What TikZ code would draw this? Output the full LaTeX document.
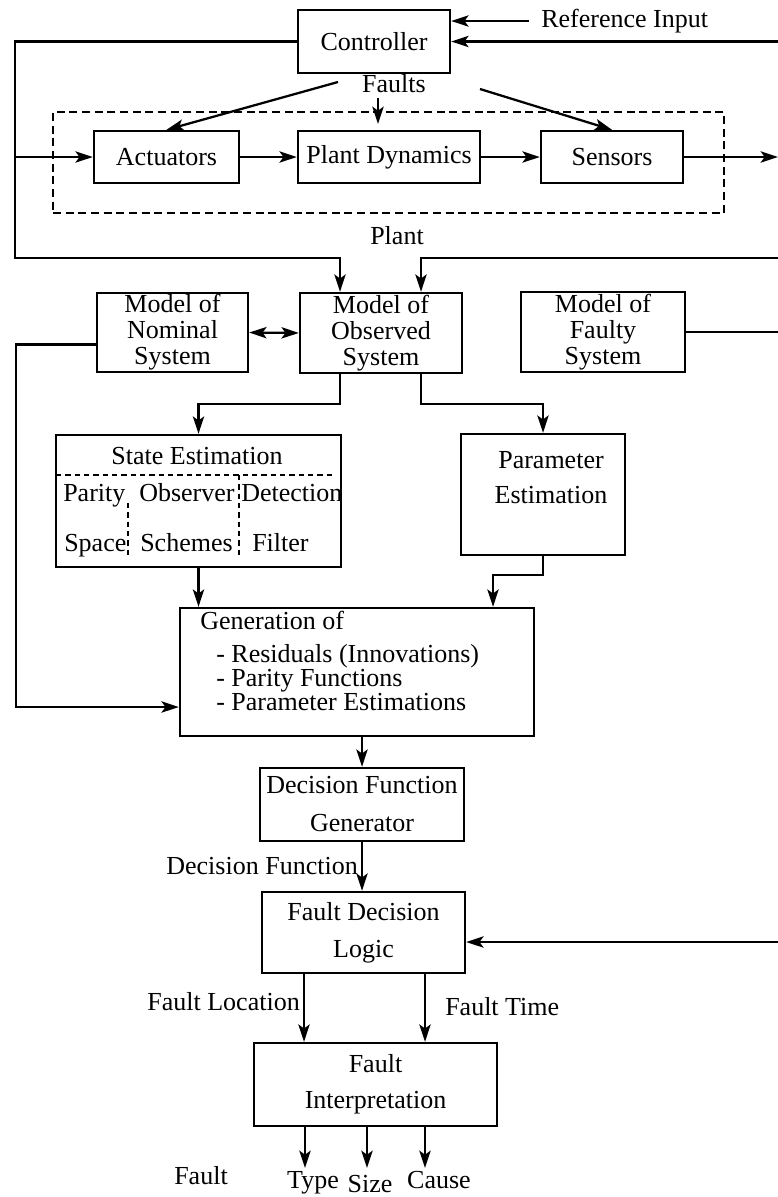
\documentclass[tikz,border=0pt]{standalone}
\usepackage{fontspec}
\setmainfont{Liberation Serif}
\usetikzlibrary{arrows.meta,calc}
\begin{document}
\begin{tikzpicture}[x=0.75pt,y=-0.75pt,
  every node/.style={font=\fontsize{19.5}{19.5}\selectfont},
  box/.style={draw,line width=1.8pt,inner sep=0pt,align=center},
  bx/.style 2 args={box,minimum width=#1*0.75pt,minimum height=#2*0.75pt},
  lbl/.style={inner sep=0pt,text height=13pt,text depth=4pt},
  ln/.style={line width=1.7pt},
  tip/.tip={Stealth[length=13pt,width=8.5pt,inset=3pt]},
  arr/.style={line width=1.7pt,-tip},
  darr/.style={line width=1.7pt,tip-tip},
  pdsh/.style={line width=1.7pt,dash pattern=on 6pt off 3.5pt},
  sdsh/.style={line width=1.2pt,dash pattern=on 4pt off 3pt}]
\useasboundingbox (0,0) rectangle (778,1197);
\fill[white] (0,0) rectangle (778,1197);

% ---- top: controller and plant
\node[bx={152}{63}] (ctrl) at (374,41.5) {Controller};
\node[lbl,anchor=west] (refin) at (541,21) {Reference Input};
\node[lbl] (faults) at (394,86) {Faults};
\node[bx={671}{101},pdsh] (plantbox) at (388.5,162.5) {};
\node[bx={145}{52}] (act) at (166.5,157) {Actuators};
\node[bx={182}{52}] (pd) at (389,157) {Plant Dynamics};
\node[bx={142}{52}] (sens) at (612,157) {Sensors};
\node[lbl] (plantlbl) at (397,238) {Plant};

% ---- models
\node[bx={151}{79}] (nom) at (172.5,332.5) {Model of\\Nominal\\System};
\node[bx={162}{80}] (obs) at (381,333) {Model of\\Observed\\System};
\node[bx={164}{80}] (faulty) at (603,332) {Model of\\Faulty\\System};

% ---- estimation
\node[bx={285}{132}] (se) at (198.5,501) {};
\node[lbl] (setitle) at (197,458) {State Estimation};
\node[lbl,anchor=west] (sparity) at (63,495) {Parity};
\node[lbl,anchor=west] (sobs) at (139,495) {Observer};
\node[lbl,anchor=west] (sdet) at (241,495) {Detection};
\node[lbl,anchor=west] (sspace) at (64,545) {Space};
\node[lbl,anchor=west] (ssch) at (140,545) {Schemes};
\node[lbl,anchor=west] (sfil) at (252,545) {Filter};
\coordinate (s1) at (56,475);
\coordinate (s2) at (333,475);
\coordinate (s3) at (128,503);
\coordinate (s4) at (128,557);
\coordinate (s5) at (239,475);
\coordinate (s6) at (239,557);
\draw[sdsh] (s1) -- (s2);
\draw[sdsh] (s3) -- (s4);
\draw[sdsh] (s5) -- (s6);

\node[bx={164}{121}] (pe) at (543,494.5) {};
\node[align=center,inner sep=0pt] (petxt) at (551,477.5) {Parameter\\[6.5pt]Estimation};

% ---- generation
\node[bx={354}{128}] (gen) at (357,672) {};
\node[lbl,anchor=west] (g1) at (200,623) {Generation of};
\node[lbl,anchor=west] (g2) at (216,656) {- Residuals (Innovations)};
\node[lbl,anchor=west] (g3) at (216,680) {- Parity Functions};
\node[lbl,anchor=west] (g4) at (216,704) {- Parameter Estimations};

% ---- decision
\node[bx={204}{73}] (dfg) at (362,804.5) {Decision Function\\[9pt]Generator};
\node[lbl,anchor=east] (dflbl) at (358,868) {Decision Function};
\node[bx={203}{81}] (fdl) at (363.5,932.5) {Fault Decision\\[8.5pt]Logic};
\node[lbl,anchor=east] (floc) at (300,1004) {Fault Location};
\node[lbl,anchor=west] (ftime) at (445,1009) {Fault Time};
\node[bx={243}{83}] (fi) at (375.5,1084.5) {Fault\\[7.5pt]Interpretation};
\node[lbl] (ofault) at (201,1178) {Fault};
\node[lbl] (otype) at (313,1182) {Type};
\node[lbl] (osize) at (370,1186) {Size};
\node[lbl] (ocause) at (439,1182) {Cause};

% ---- connectors
\coordinate (R1) at (778,41.5);
\draw[arr] (R1) -- (ctrl.east);
\draw[arr] ([xshift=-9pt]refin.west) -- (refin.west -| ctrl.east);
\coordinate (L1) at (15,258);
\coordinate (L2) at (340,258);
\draw[arr] (ctrl.west) -| (L1) -- (L2) -- (L2 |- obs.north);
\draw[arr] (L1 |- act.west) -- (act.west);
\draw[arr] (act.east) -- (pd.west);
\draw[arr] (pd.east) -- (sens.west);
\coordinate (O1) at (778,157);
\draw[arr] (sens.east) -- (O1);
\coordinate (F1) at (338,82);
\coordinate (F2) at (480,89);
\coordinate (F3) at (378,124);
\draw[arr] (F1) -- (act.north);
\draw[arr] (F2) -- (sens.north);
\draw[arr] (faults.south -| F3) -- (F3);

\coordinate (R2) at (778,258);
\coordinate (L3) at (421,258);
\draw[arr] (R2) -- (L3) -- (L3 |- obs.north);
\draw[darr] (nom.east) -- (obs.west);
\coordinate (R3) at (778,332);
\draw[ln] (faulty.east) -- (R3);
\coordinate (L4) at (16,707);
\draw[arr] ([yshift=-9pt]nom.west) -| (L4) -- (L4 -| gen.west);

\coordinate (B1) at (340,404);
\coordinate (B2) at (421,404);
\draw[arr] (B1 |- obs.south) -- (B1) -| (se.north);
\draw[arr] (B2 |- obs.south) -- (B2) -| (pe.north);
\draw[arr] (se.south) -- (se.south |- gen.north);
\coordinate (B3) at (493,575);
\draw[arr] (pe.south) |- (B3) -- (B3 |- gen.north);
\draw[arr] (dfg.north |- gen.south) -- (dfg.north);
\draw[arr] (dfg.south) -- (dfg.south |- fdl.north);
\coordinate (R4) at (778,942);
\draw[arr] (R4) -- (R4 -| fdl.east);
\coordinate (C1) at (304,0);
\coordinate (C2) at (425,0);
\draw[arr] (C1 |- fdl.south) -- (C1 |- fi.north);
\draw[arr] (C2 |- fdl.south) -- (C2 |- fi.north);
\coordinate (D1) at (305,1168);
\coordinate (D2) at (367,1168);
\coordinate (D3) at (425,1168);
\draw[arr] (D1 |- fi.south) -- (D1);
\draw[arr] (D2 |- fi.south) -- (D2);
\draw[arr] (D3 |- fi.south) -- (D3);
\end{tikzpicture}
\end{document}
